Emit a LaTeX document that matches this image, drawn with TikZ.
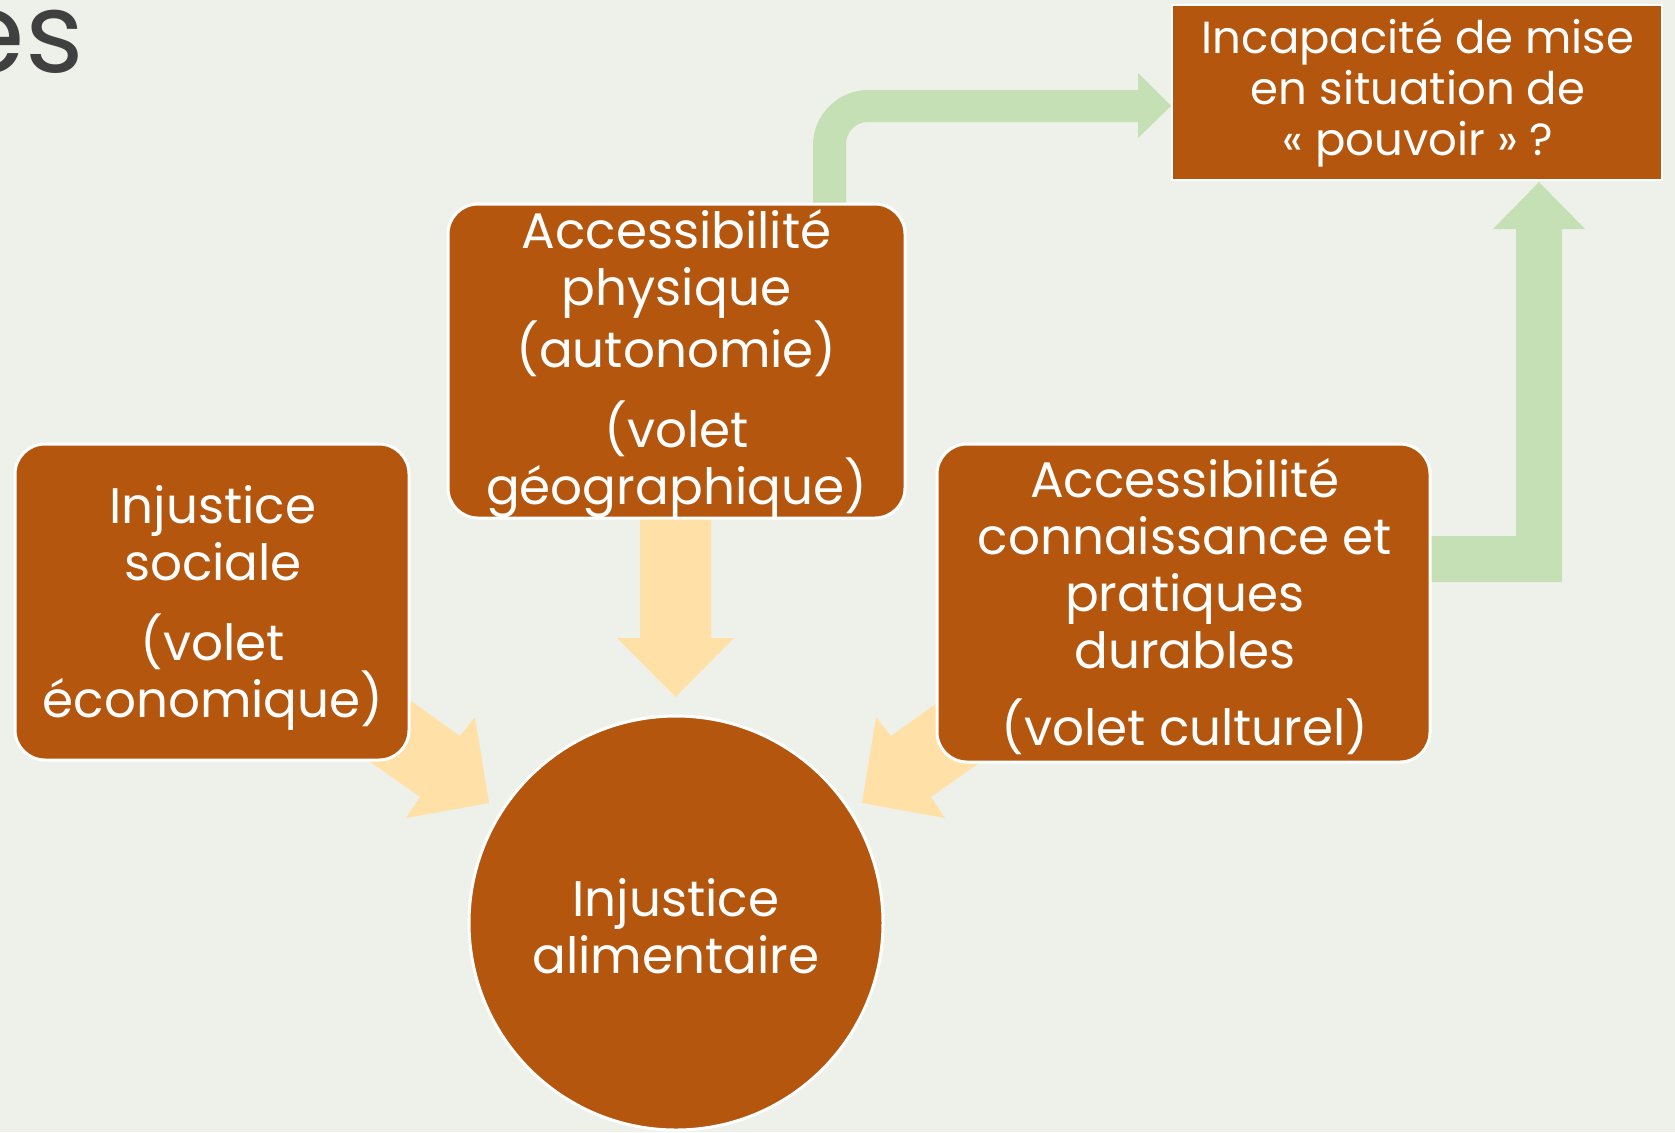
\documentclass[tikz,border=0pt]{standalone}
\usepackage{fontspec}
\setmainfont{Poppins}
\definecolor{brownc}{RGB}{180,86,14}
\definecolor{greenc}{RGB}{197,224,180}
\definecolor{yellowc}{RGB}{255,225,168}
\definecolor{bgc}{RGB}{238,241,233}
\definecolor{titlec}{RGB}{64,64,64}
\begin{document}
\begin{tikzpicture}[x=0.5pt,y=-0.5pt,
  brownbox/.style={fill=brownc, draw=white, line width=1.5pt, rounded corners=15pt, inner sep=0pt},
  topbox/.style={fill=brownc, draw=white, line width=1pt, inner sep=0pt},
  roundnode/.style={circle, fill=brownc, draw=white, line width=1.5pt, inner sep=0pt},
  maintext/.style={inner sep=0pt, align=center, text=white, font=\fontsize{25}{28.5}\selectfont},
  toptext/.style={inner sep=0pt, align=center, text=white, font=\fontsize{22.5}{25.5}\selectfont},
  greenarrow/.style={fill=greenc},
  yellowarrow/.style={fill=yellowc}]
\useasboundingbox (0,0) rectangle (1675,1132);
\fill[bgc] (0,0) rectangle (1675,1132);
\node[anchor=base east, font=\fontsize{56}{62}\selectfont, text=titlec, inner sep=0pt] (title) at (84,72) {es};
% green elbow arrow from centre box to top box
\fill[greenarrow] (813,230) -- (813,145) .. controls (813,115) and (838,90) .. (868,90)
  -- (1138,90) -- (1138,73) -- (1171,106) -- (1138,138) -- (1138,122) -- (868,122)
  .. controls (855,122) and (846,132) .. (846,145) -- (846,230) -- cycle;
% green elbow arrow from right box to top box
\fill[greenarrow] (1420,536) -- (1516,536) -- (1516,229) -- (1493,229) -- (1539,182)
  -- (1585,229) -- (1562,229) -- (1562,582) -- (1420,582) -- cycle;
% yellow arrows towards the circle
\fill[yellowarrow] (640,505) -- (640,638) -- (617,638) -- (675.5,697) -- (734,638) -- (711,638) -- (711,505) -- cycle;
\fill[yellowarrow] (362,666) -- (460,736) -- (475,717) -- (489,803) -- (406,818) -- (420,797) -- (331,734) -- cycle;
\fill[yellowarrow] (989,666) -- (891,736) -- (876,717) -- (862,803) -- (945,818) -- (931,797) -- (1020,734) -- cycle;
% boxes
\node[brownbox, minimum width=228.5pt, minimum height=157pt] (phys) at (676.5,361) {};
\node[maintext] (physT) at (676.5,364)
  {Accessibilité\\physique\\(autonomie)\\[11.5pt](volet\\géographique)};
\node[brownbox, minimum width=197pt, minimum height=158pt] (soc) at (212,602) {};
\node[maintext] (socT) at (213,608)
  {Injustice\\sociale\\[11.5pt](volet\\économique)};
\node[brownbox, minimum width=246.5pt, minimum height=159pt] (cult) at (1183.5,603) {};
\node[maintext] (cultT) at (1185,607)
  {Accessibilité\\connaissance et\\pratiques\\durables\\[10pt](volet culturel)};
\node[topbox, minimum width=245pt, minimum height=87.5pt] (pouv) at (1417,92.5) {};
\node[toptext] (pouvT) at (1418,92.5)
  {Incapacité de mise\\en situation de\\« pouvoir » ?};
\node[roundnode, minimum size=207pt] (circ) at (676,923) {};
\node[maintext] (circT) at (676,926) {Injustice\\alimentaire};
\end{tikzpicture}
\end{document}
